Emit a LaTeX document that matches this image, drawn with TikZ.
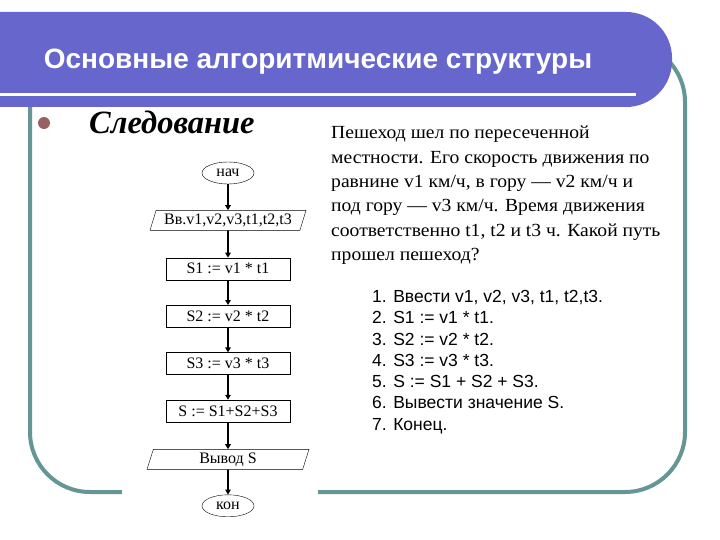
\documentclass[tikz,border=0pt]{standalone}
\usepackage{fontspec}
\setmainfont{Liberation Serif}
\setsansfont{Liberation Sans}
\newfontfamily\taskfont[FakeStretch=1.06]{Liberation Serif}
\usepackage{tikz}
\usetikzlibrary{arrows.meta,positioning,shapes.geometric}
\definecolor{headblue}{RGB}{102,102,204}
\definecolor{frameteal}{RGB}{100,150,150}
\definecolor{dotred}{RGB}{153,96,96}

\begin{document}
\begin{tikzpicture}[x=1pt,y=-1pt,
  block/.style={rectangle,draw,thin,minimum width=124pt,minimum height=22pt,inner sep=1pt,font=\fontsize{16}{18}\selectfont},
  io/.style={trapezium,trapezium left angle=68,trapezium right angle=112,trapezium stretches body,draw,thin,minimum height=20pt,inner sep=1pt,font=\fontsize{16}{18}\selectfont},
  terminal/.style={ellipse,draw,thin,minimum width=52pt,minimum height=22pt,inner sep=0pt,font=\fontsize{16}{18}\selectfont},
  arrow/.style={-{Triangle[length=5pt,width=5.5pt]},line width=1.6pt},
  node distance=26pt
]
\useasboundingbox (0,0) rectangle (720,540);
\fill[white] (0,0) rectangle (720,540);
% frame and header
\draw[frameteal,line width=4pt,rounded corners=60] (30,42) rectangle (685,492);
\fill[white] (122,140) rectangle (318,530);
\begin{scope}
\clip (0,0) rectangle (720,540);
\fill[headblue,rounded corners=46] (-60,12) rectangle (672,107);
\end{scope}
\draw[white,line width=3pt] (0,95) -- (636,95);
\node[text=white,font=\sffamily\bfseries\fontsize{28}{32}\selectfont] (title) at (318,62) {Основные алгоритмические структуры};
\node[circle,fill=dotred,minimum size=12pt,inner sep=0pt] (bullet) at (44,123) {};
\node[anchor=west,inner sep=0pt,font=\bfseries\itshape\fontsize{32.5}{36}\selectfont] (sled) at (89,122) {Следование};

% flowchart
\node[terminal] (nach) at (228,173) {нач};
\node[io,minimum width=156pt,below=26pt of nach] (vvod) {Вв.v1,v2,v3,t1,t2,t3};
\node[block,below=27pt of vvod] (s1) {S1 := v1 * t1};
\node[block,below=25pt of s1] (s2) {S2 := v2 * t2};
\node[block,below=25pt of s2] (s3) {S3 := v3 * t3};
\node[block,below=25pt of s3] (ssum) {S := S1+S2+S3};
\node[io,minimum width=162pt,below=27pt of ssum] (vyvod) {Вывод S};
\node[terminal,below=25pt of vyvod] (kon) {кон};
\draw[arrow] (nach) -- (vvod);
\draw[arrow] (vvod) -- (s1);
\draw[arrow] (s1) -- (s2);
\draw[arrow] (s2) -- (s3);
\draw[arrow] (s3) -- (ssum);
\draw[arrow] (ssum) -- (vyvod);
\draw[arrow] (vyvod) -- (kon);

% task text and steps
\node[anchor=north west,align=left,inner sep=0pt,font=\taskfont\fontsize{18.5}{24.3}\selectfont] (task) at (331,126)
  {Пешеход шел по пересеченной\\местности. Его скорость движения по\\равнине v1 км/ч, в гору — v2 км/ч и\\под гору — v3 км/ч. Время движения\\соответственно t1, t2 и t3 ч. Какой путь\\прошел пешеход?};
\node[anchor=north west,align=left,inner sep=0pt,font=\sffamily\fontsize{17.5}{21.3}\selectfont] (steps) at (372,290)
  {1. Ввести v1, v2, v3, t1, t2,t3.\\2. S1 := v1 * t1.\\3. S2 := v2 * t2.\\4. S3 := v3 * t3.\\5. S := S1 + S2 + S3.\\6. Вывести значение S.\\7. Конец.};
\end{tikzpicture}
\end{document}
